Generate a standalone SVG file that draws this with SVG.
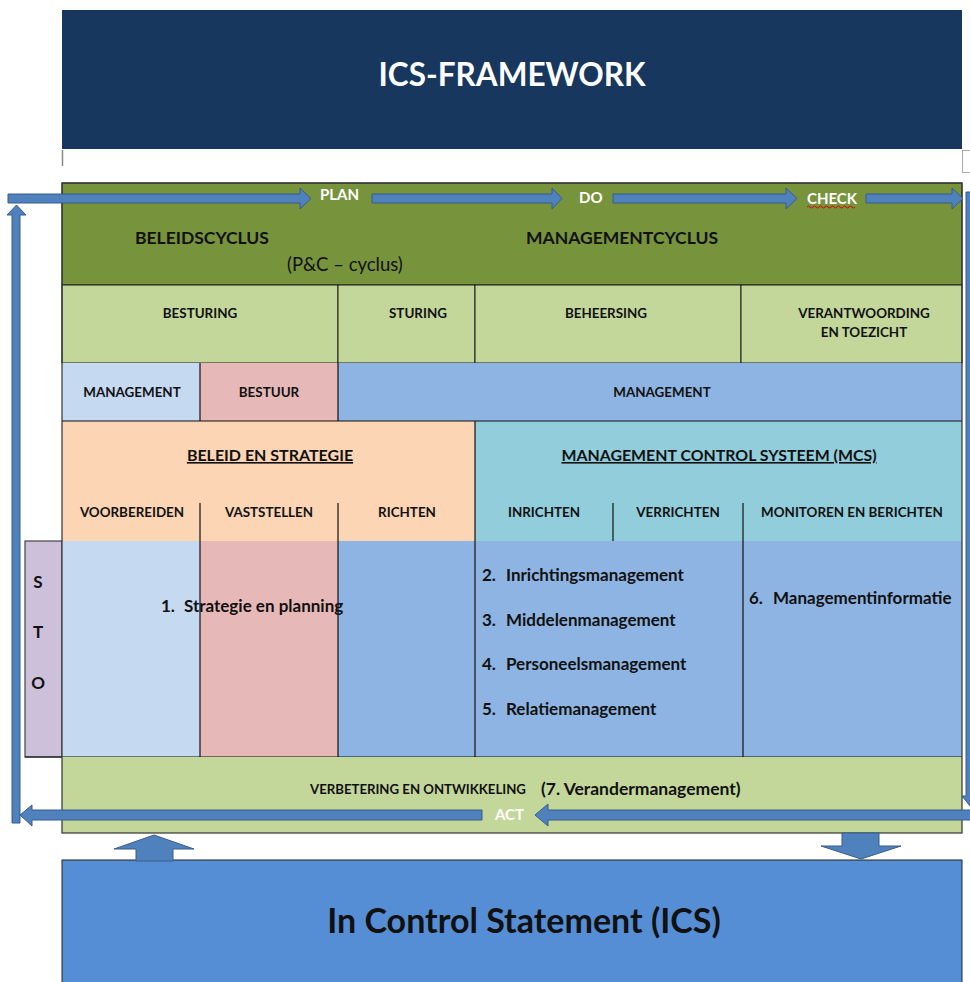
<svg xmlns="http://www.w3.org/2000/svg" width="970" height="982" viewBox="0 0 970 982">
<style>
text{font-family:Lato,"Liberation Sans",sans-serif;font-weight:bold;fill:#111;}
.cell{stroke:#1a1a1a;stroke-width:1;}
.sm{font-size:13.4px;text-anchor:middle;}
.md{font-size:16px;}
.it{font-size:17px;}
.wt{fill:#fff;font-size:15px;}
.arrow{fill:#4F81BD;stroke:#385D8A;stroke-width:1;}
.ln{stroke:#111;stroke-width:1.2;}
</style>
<rect width="970" height="982" fill="#fff"/>

<g id="title">
<rect x="62" y="10" width="900" height="139" fill="#17375E"/>
<text x="512" y="86" text-anchor="middle" style="fill:#fff;font-size:31.5px">ICS-FRAMEWORK</text>
</g>
<line x1="62.5" y1="150" x2="62.5" y2="166" stroke="#888" stroke-width="1.5"/>
<rect x="962.5" y="150.5" width="10" height="22" fill="none" stroke="#aaa"/>

<g id="header">
<rect x="62" y="183" width="900" height="102" fill="#77933C" stroke="#333" stroke-width="1"/>
<text x="135" y="244" style="font-size:17.5px">BELEIDSCYCLUS</text>
<text x="622" y="244" text-anchor="middle" style="font-size:17.5px">MANAGEMENTCYCLUS</text>
<text x="287" y="271" style="font-size:18.5px;font-weight:normal">(P&amp;C – cyclus)</text>
</g>

<g id="row-besturing">
<rect class="cell" x="62" y="285" width="276" height="78" fill="#C4D79B"/>
<text class="sm" x="200" y="318">BESTURING</text>
</g>
<g id="row-sturing">
<rect class="cell" x="338" y="285" width="137" height="78" fill="#C4D79B"/>
<text class="sm" x="418" y="318">STURING</text>
</g>
<g id="row-beheersing">
<rect class="cell" x="475" y="285" width="266" height="78" fill="#C4D79B"/>
<text class="sm" x="606" y="318">BEHEERSING</text>
</g>
<g id="row-verantwoording">
<rect class="cell" x="741" y="285" width="221" height="78" fill="#C4D79B"/>
<text class="sm" x="864" y="318">VERANTWOORDING</text>
<text class="sm" x="864" y="337">EN TOEZICHT</text>
</g>

<g id="management-1">
<rect x="62" y="363" width="138" height="58" fill="#C5D9F1"/>
<text class="sm" x="132" y="397">MANAGEMENT</text>
</g>
<g id="bestuur">
<rect x="200" y="363" width="138" height="58" fill="#E6B8B7"/>
<text class="sm" x="269" y="397">BESTUUR</text>
</g>
<g id="management-2">
<rect x="338" y="363" width="624" height="58" fill="#8DB4E2"/>
<text class="sm" x="662" y="397">MANAGEMENT</text>
</g>
<line class="ln" x1="200" y1="363" x2="200" y2="421"/>
<line class="ln" x1="338" y1="363" x2="338" y2="421"/>

<g id="beleid-strategie">
<rect x="62" y="421" width="413" height="120" fill="#FCD5B4"/>
<text class="md" x="270" y="461" text-anchor="middle" text-decoration="underline">BELEID EN STRATEGIE</text>
<text class="sm" x="132" y="517">VOORBEREIDEN</text>
<text class="sm" x="269" y="517">VASTSTELLEN</text>
<text class="sm" x="407" y="517">RICHTEN</text>
</g>
<g id="mcs">
<rect x="475" y="421" width="487" height="120" fill="#92CDDC"/>
<text class="md" x="719" y="461" text-anchor="middle" text-decoration="underline" style="font-size:15.9px">MANAGEMENT CONTROL SYSTEEM (MCS)</text>
<text class="sm" x="544" y="517">INRICHTEN</text>
<text class="sm" x="678" y="517">VERRICHTEN</text>
<text class="sm" x="852" y="517">MONITOREN EN BERICHTEN</text>
</g>
<line x1="62" y1="421" x2="962" y2="421" stroke="#111" stroke-width="1.2"/>
<line class="ln" x1="475" y1="421" x2="475" y2="541" stroke="#333"/>
<line class="ln" x1="200" y1="503" x2="200" y2="541"/>
<line class="ln" x1="338" y1="503" x2="338" y2="541"/>
<line class="ln" x1="613" y1="503" x2="613" y2="541"/>

<g id="sto">
<rect x="25" y="541" width="37" height="216" fill="#CCC0DA" stroke="#444" stroke-width="1.2"/>
<text x="38" y="588" text-anchor="middle" style="font-size:17px">S</text>
<text x="38" y="638" text-anchor="middle" style="font-size:17px">T</text>
<text x="38" y="689" text-anchor="middle" style="font-size:17px">O</text>
</g>
<g id="strategie-planning">
<rect x="62" y="541" width="138" height="216" fill="#C5D9F1"/>
<rect x="200" y="541" width="138" height="216" fill="#E6B8B7"/>
<rect x="338" y="541" width="137" height="216" fill="#8DB4E2"/>
<line class="ln" x1="200" y1="541" x2="200" y2="757"/>
<line class="ln" x1="338" y1="541" x2="338" y2="757"/>
<text class="it" y="612"><tspan x="161">1.</tspan><tspan x="184">Strategie en planning</tspan></text>
</g>
<g id="mcs-items">
<rect x="475" y="541" width="268" height="216" fill="#8DB4E2"/>
<line class="ln" x1="475" y1="541" x2="475" y2="757"/>
<text class="it" y="581"><tspan x="482">2.</tspan><tspan x="506">Inrichtingsmanagement</tspan></text>
<text class="it" y="626"><tspan x="482">3.</tspan><tspan x="506">Middelenmanagement</tspan></text>
<text class="it" y="670"><tspan x="482">4.</tspan><tspan x="506">Personeelsmanagement</tspan></text>
<text class="it" y="715"><tspan x="482">5.</tspan><tspan x="506">Relatiemanagement</tspan></text>
</g>
<g id="managementinformatie">
<rect x="743" y="541" width="219" height="216" fill="#8DB4E2"/>
<text class="it" y="604"><tspan x="749">6.</tspan><tspan x="773">Managementinformatie</tspan></text>
</g>
<line class="ln" x1="743" y1="503" x2="743" y2="757"/>
<line x1="25" y1="757" x2="962" y2="757" stroke="#111" stroke-width="1.2"/>

<g id="verbetering">
<rect x="62" y="757" width="900" height="76" fill="#C4D79B"/>
<text x="310" y="794" style="font-size:13.2px">VERBETERING EN ONTWIKKELING</text>
<text x="541" y="795" style="font-size:17.5px">(7. Verandermanagement)</text>
</g>

<rect x="62" y="183" width="900" height="650" fill="none" stroke="#333" stroke-width="1.2"/>

<g id="ics">
<rect x="62" y="860" width="900" height="130" fill="#558ED5" stroke="#222" stroke-width="1"/>
<text x="524" y="933" text-anchor="middle" style="font-size:34px">In Control Statement (ICS)</text>
</g>

<g id="connectors">
<polygon class="arrow" points="8,194 300,194 300,188 311,198.5 300,209 300,203 8,203"/>
<polygon class="arrow" points="372,194 552,194 552,188 562,198.5 552,209 552,203 372,203"/>
<polygon class="arrow" points="613,194 786,194 786,188 797,198.5 786,209 786,203 613,203"/>
<polygon class="arrow" points="866,194 952,194 952,188 963,198.5 952,209 952,203 866,203"/>
<polygon class="arrow" points="966,192 974,192 974,796 978,796 970,806 962,796 966,796"/>
<polygon class="arrow" points="980,810 548,810 548,804 535,815 548,826 548,820 980,820"/>
<polygon class="arrow" points="482,810 32,810 32,805 20,815 32,826 32,820 482,820"/>
<polygon class="arrow" points="12,823 12,215 7,215 16.5,205 26,215 20,215 20,823"/>
<polygon class="arrow" points="136,861 136,849 114,849 154,835 194,849 173,849 173,861"/>
<polygon class="arrow" points="842,833 879,833 879,846 901,846 861,859 821,846 842,846"/>
</g>

<g id="cycle-labels">
<text class="wt" x="320" y="200">PLAN</text>
<text class="wt" x="579" y="203">DO</text>
<text class="wt" x="807" y="204">CHECK</text>
<path d="M807,207 q1.5,-2 3,0 t3,0 t3,0 t3,0 t3,0 t3,0 t3,0 t3,0 t3,0 t3,0 t3,0 t3,0 t3,0 t3,0 t3,0 t3,0" fill="none" stroke="#d00" stroke-width="1"/>
<text class="wt" x="495" y="820">ACT</text>
</g>
</svg>
